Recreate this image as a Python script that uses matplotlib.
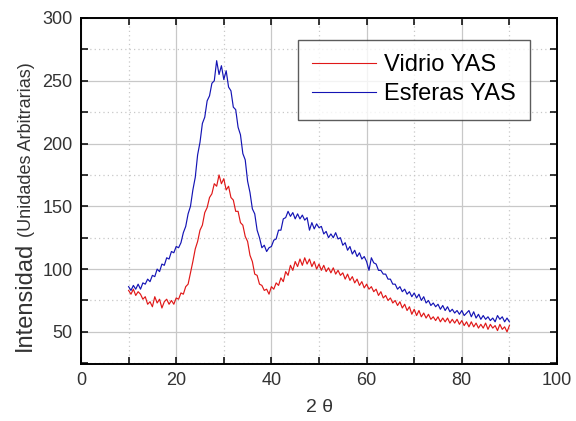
import numpy as np
import matplotlib
matplotlib.use("Agg")
import matplotlib.pyplot as plt
from matplotlib.ticker import MultipleLocator

# 2-theta values (degrees), 0.5 step
two_theta = np.arange(10.0, 90.01, 0.5)

# Esferas YAS (blue)
esferas = [
    86, 83, 87, 84, 88, 84, 89, 88, 92, 90,
    95, 94, 100, 98, 104, 103, 109, 108, 114, 113,
    118, 117, 121, 129, 134, 144, 150, 163, 173, 191,
    201, 216, 221, 234, 238, 248, 250, 266, 255, 262,
    251, 258, 245, 242, 229, 227, 213, 207, 192, 187,
    170, 161, 148, 144, 131, 125, 117, 119, 114, 117,
    118, 123, 124, 131, 131, 140, 141, 146, 142, 145,
    140, 144, 140, 143, 139, 141, 131, 137, 132, 136,
    133, 134, 128, 130, 125, 128, 125, 129, 124, 125,
    119, 121, 115, 118, 112, 115, 110, 113, 108, 110,
    106, 99, 109, 105, 104, 99, 99, 96, 96, 92,
    92, 88, 88, 84, 86, 82, 84, 80, 82, 78,
    81, 77, 80, 75, 78, 73, 75, 71, 73, 70,
    72, 68, 71, 67, 70, 66, 68, 65, 67, 64,
    67, 63, 65, 67, 62, 66, 61, 64, 60, 63,
    60, 62, 59, 61, 58, 63, 60, 62, 58, 61,
    58,
]

# Vidrio YAS (red)
vidrio = [
    83, 80, 84, 79, 82, 80, 76, 78, 72, 74,
    70, 78, 73, 76, 69, 74, 76, 72, 75, 72,
    77, 76, 81, 80, 86, 88, 97, 106, 116, 122,
    131, 135, 145, 149, 157, 160, 168, 166, 175, 168,
    172, 163, 166, 157, 155, 146, 146, 137, 135, 126,
    122, 111, 106, 96, 95, 88, 87, 83, 84, 80,
    86, 84, 89, 87, 93, 90, 98, 95, 103, 99,
    106, 102, 108, 103, 109, 104, 108, 102, 106, 100,
    104, 99, 103, 98, 101, 97, 101, 96, 99, 95,
    97, 92, 96, 91, 94, 89, 92, 87, 90, 85,
    88, 84, 86, 82, 84, 79, 82, 77, 79, 75,
    77, 73, 75, 71, 74, 69, 72, 67, 70, 64,
    68, 63, 67, 62, 65, 61, 64, 60, 62, 59,
    62, 58, 61, 58, 61, 57, 60, 57, 60, 56,
    59, 55, 58, 54, 58, 54, 57, 53, 56, 53,
    57, 52, 56, 53, 55, 51, 56, 52, 54, 50,
    55,
]

plt.rcParams["font.family"] = ["Liberation Sans", "DejaVu Sans"]

fig = plt.figure(figsize=(5.76, 4.21), dpi=100)
ax = fig.add_axes([81 / 576, 57 / 421, 476 / 576, 346 / 421])

ax.plot(two_theta, vidrio, color="#e01818", linewidth=0.85, label="Vidrio YAS")
ax.plot(two_theta, esferas, color="#1414b4", linewidth=0.85, label="Esferas YAS")

ax.set_xlim(0, 100)
ax.set_ylim(24.4, 300)
ax.xaxis.set_major_locator(MultipleLocator(20))
ax.xaxis.set_minor_locator(MultipleLocator(10))
ax.yaxis.set_major_locator(MultipleLocator(50))
ax.yaxis.set_minor_locator(MultipleLocator(25))
ax.set_yticks([50, 100, 150, 200, 250, 300])

ax.grid(True, which="major", color="#c8c8c8", linewidth=0.9)
ax.grid(True, which="minor", color="#c8c8c8", linewidth=0.9, linestyle=(0, (1, 2.5)))
ax.set_axisbelow(True)

ax.tick_params(which="both", direction="in", top=True, right=True,
               length=5, width=1.1, labelsize=13, colors="black")
ax.tick_params(axis="x", pad=6)
ax.tick_params(axis="y", pad=6)
for lab in ax.get_xticklabels() + ax.get_yticklabels():
    lab.set_color("#333333")
for sp in ax.spines.values():
    sp.set_linewidth(1.4)

ax.set_xlabel("2 θ", fontsize=14, color="#333333", labelpad=7)

leg = ax.legend(loc="upper right", bbox_to_anchor=(0.943, 0.936), fontsize=17,
                frameon=True, fancybox=False, handlelength=2.7, handletextpad=0.35,
                borderpad=0.6, labelspacing=0.3, borderaxespad=0)
leg.get_frame().set_edgecolor("#333333")
leg.get_frame().set_linewidth(1.0)
for h in leg.get_lines():
    h.set_linewidth(0.8)

# y label: large "Intensidad" followed by smaller "(Unidades Arbitrarias)"
t1 = fig.text(31 / 576, (421 - 351) / 421, "Intensidad", rotation=90,
              rotation_mode="anchor", ha="left", va="baseline",
              fontsize=17, color="#333333")
fig.canvas.draw()
bb = t1.get_window_extent()
fig.text(31 / 576, (bb.y1 + 5) / 421, "(Unidades Arbitrarias)", rotation=90,
         rotation_mode="anchor", ha="left", va="baseline",
         fontsize=13, color="#333333")

fig.savefig("out.png", dpi=100)
